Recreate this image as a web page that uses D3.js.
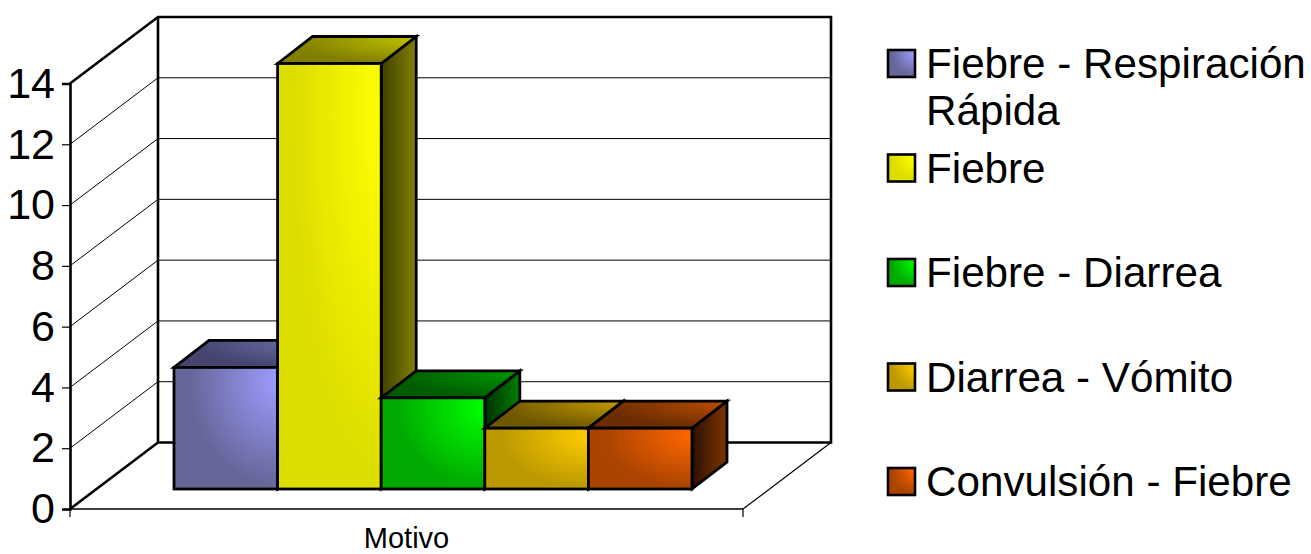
<!DOCTYPE html>
<html>
<head>
<meta charset="utf-8">
<style>
  html, body { margin: 0; padding: 0; background: #fff; }
  svg { display: block; }
  text { font-family: "Liberation Sans", Arial, sans-serif; fill: #000; }
</style>
<script src="https://cdn.jsdelivr.net/npm/d3@7/dist/d3.min.js"></script>
</head>
<body>
<svg id="chart" width="1311" height="554"></svg>
<script>
// Chart content
const category = "Motivo";
const seriesNames = ["Fiebre - Respiración Rápida", "Fiebre", "Fiebre - Diarrea", "Diarrea - Vómito", "Convulsión - Fiebre"];
const seriesValues = [4, 14, 3, 2, 2];
const legendLines = [["Fiebre - Respiración", "Rápida"], ["Fiebre"], ["Fiebre - Diarrea"], ["Diarrea - Vómito"], ["Convulsión - Fiebre"]];
const yTicks = [0, 2, 4, 6, 8, 10, 12, 14];

// Face shading per series: bright and dark for the front, dark and light for the top and side
const frontBright = ["#9c9cff", "#ffff00", "#00ff00", "#ffcc00", "#ff6600"];
const frontDark   = ["#666699", "#dddd00", "#00aa00", "#bb9900", "#aa4400"];
const topDark     = ["#44446e", "#808000", "#005c00", "#705800", "#6a2c00"];
const topLight    = ["#6c6caa", "#c0c000", "#009800", "#c09800", "#b84c00"];
const sideLeft    = ["#333355", "#404000", "#003000", "#4c3c00", "#2a1000"];
const sideRight   = ["#55557f", "#808000", "#008000", "#806600", "#803300"];

const svg = d3.select("#chart");

// Oblique projection: the plot box recedes up and to the right
const box = { x0: 70, x1: 743, y0: 509, y1: 83.5, dx: 88, dy: -66.5 };
const barDepth = { dx: 35, dy: -27 };
const barInset = { x0: 174, x1: 692, lift: 20 };

const y = d3.scaleLinear().domain([0, 14]).range([box.y0, box.y1]);
const xBand = d3.scaleBand().domain(d3.range(seriesNames.length)).range([barInset.x0, barInset.x1]);
const xCat = d3.scaleBand().domain([category]).range([box.x0, box.x1]);

const line = d3.line();
const defs = svg.append("defs");

// Gradients for each series
seriesNames.forEach((_, i) => {
  const front = defs.append("radialGradient").attr("id", `front${i}`)
    .attr("cx", 1).attr("cy", 0.12).attr("r", 1).attr("fx", 1).attr("fy", 0.12);
  front.append("stop").attr("offset", 0).attr("stop-color", frontBright[i]);
  front.append("stop").attr("offset", 0.85).attr("stop-color", frontDark[i]);
  front.append("stop").attr("offset", 1).attr("stop-color", frontDark[i]);

  const top = defs.append("radialGradient").attr("id", `top${i}`)
    .attr("cx", 1).attr("cy", 0.1).attr("r", 1).attr("fx", 1).attr("fy", 0.1);
  top.append("stop").attr("offset", 0).attr("stop-color", topLight[i]);
  top.append("stop").attr("offset", 0.9).attr("stop-color", topDark[i]);
  top.append("stop").attr("offset", 1).attr("stop-color", topDark[i]);

  const side = defs.append("linearGradient").attr("id", `side${i}`)
    .attr("x1", 0).attr("y1", 0).attr("x2", 1).attr("y2", 0);
  side.append("stop").attr("offset", 0).attr("stop-color", sideLeft[i]);
  side.append("stop").attr("offset", 1).attr("stop-color", sideRight[i]);
});

// Back wall and floor
const walls = svg.append("g").attr("fill", "none").attr("stroke", "#000");
const back = {
  x0: box.x0 + box.dx, x1: box.x1 + box.dx,
  y0: y(0) + box.dy, y1: y(14) + box.dy
};

// Gridlines on the back wall and across the left wall
const gridValues = yTicks.filter(v => v > 0 && v < 14);
walls.selectAll("path.grid").data(gridValues).join("path")
  .attr("class", "grid")
  .attr("stroke-width", 1)
  .attr("d", v => line([[box.x0, y(v)], [back.x0, y(v) + box.dy], [back.x1, y(v) + box.dy]]));

// Floor's right edge
walls.append("path").attr("stroke-width", 1.2)
  .attr("d", line([[box.x1, box.y0], [back.x1, back.y0]]));

// Wall outlines
walls.append("path").attr("stroke-width", 2.6)
  .attr("d", line([[box.x0, y(14)], [back.x0, back.y1], [back.x1, back.y1], [back.x1, back.y0], [back.x0, back.y0], [box.x0, box.y0]]));
walls.append("path").attr("stroke-width", 2.6)
  .attr("d", line([[back.x0, back.y1], [back.x0, back.y0]]));
walls.append("path").attr("stroke-width", 1.6)
  .attr("d", line([[box.x0, box.y0], [box.x1, box.y0]]));

// Bars, left to right so each one overlaps its neighbour's side face
const baseY = box.y0 - barInset.lift;
const barY = v => y(v) - barInset.lift;
const bars = svg.append("g").selectAll("g").data(seriesValues).join("g")
  .attr("stroke", "#000").attr("stroke-width", 2.8).attr("stroke-linejoin", "miter");

bars.append("path")
  .attr("fill", (d, i) => `url(#side${i})`)
  .attr("d", (d, i) => {
    const r = xBand(i) + xBand.bandwidth();
    return line([[r, barY(d)], [r + barDepth.dx, barY(d) + barDepth.dy], [r + barDepth.dx, baseY + barDepth.dy], [r, baseY]]) + "Z";
  });
bars.append("path")
  .attr("fill", (d, i) => `url(#top${i})`)
  .attr("d", (d, i) => {
    const l = xBand(i), r = l + xBand.bandwidth();
    return line([[l, barY(d)], [l + barDepth.dx, barY(d) + barDepth.dy], [r + barDepth.dx, barY(d) + barDepth.dy], [r, barY(d)]]) + "Z";
  });
bars.append("rect")
  .attr("fill", (d, i) => `url(#front${i})`)
  .attr("x", (d, i) => xBand(i))
  .attr("y", d => barY(d))
  .attr("width", xBand.bandwidth())
  .attr("height", d => baseY - barY(d));

// Value axis
const yAxis = svg.append("g")
  .attr("transform", `translate(${box.x0},0)`)
  .call(d3.axisLeft(y).tickValues(yTicks).tickSize(8).tickPadding(7).tickFormat(d3.format("d")));
yAxis.select(".domain").attr("stroke", "#000").attr("stroke-width", 2.6);
yAxis.selectAll(".tick line").attr("stroke", "#000").attr("stroke-width", 1.2);
yAxis.selectAll("text").attr("font-size", 43).attr("font-family", "Liberation Sans").attr("fill", "#000");

// Category axis; the label sits just above the bottom edge of the page
const xAxis = svg.append("g")
  .attr("transform", `translate(0,${box.y0})`)
  .call(d3.axisBottom(xCat).tickSize(0).tickPadding(0));
xAxis.select(".domain").remove();
xAxis.selectAll("text")
  .attr("font-size", 29).attr("font-family", "Liberation Sans").attr("fill", "#000")
  .attr("dy", null).attr("y", 39);
xAxis.selectAll("line.end").data(xCat.range()).join("line")
  .attr("class", "end").attr("x1", d => d).attr("x2", d => d)
  .attr("y1", 0).attr("y2", 8).attr("stroke", "#000").attr("stroke-width", 1.2);

// Legend
const legend = { swatchX: 888, swatchTop: 50, swatchSize: 27, step: 104.5, textX: 926, baseline: 28, leading: 47 };
const entries = svg.append("g").selectAll("g").data(seriesNames).join("g")
  .attr("transform", (d, i) => `translate(0,${legend.swatchTop + i * legend.step})`);
entries.append("rect")
  .attr("x", legend.swatchX).attr("y", 0)
  .attr("width", legend.swatchSize).attr("height", legend.swatchSize)
  .attr("fill", (d, i) => `url(#front${i})`)
  .attr("stroke", "#000").attr("stroke-width", 2.6);
entries.each(function (d, i) {
  d3.select(this).selectAll("text").data(legendLines[i]).join("text")
    .attr("x", legend.textX)
    .attr("y", (t, j) => legend.baseline + j * legend.leading)
    .attr("font-size", 42.2)
    .text(t => t);
});
</script>
</body>
</html>
